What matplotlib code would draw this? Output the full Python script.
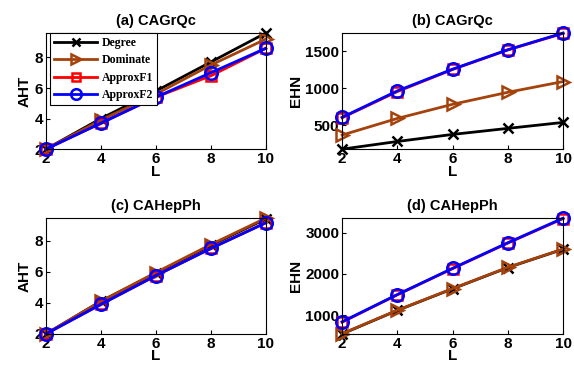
import numpy as np
import matplotlib
matplotlib.use("Agg")
import matplotlib.pyplot as plt

L = [2, 4, 6, 8, 10]
methods = ["Degree", "Dominate", "ApproxF1", "ApproxF2"]

# (a) CAGrQc AHT
aht_grqc_degree = [2.0, 4.0, 5.8, 7.7, 9.6]
aht_grqc_dominate = [2.0, 3.9, 5.6, 7.5, 9.2]
aht_grqc_f1 = [2.0, 3.7, 5.4, 6.8, 8.6]
aht_grqc_f2 = [2.0, 3.7, 5.4, 7.0, 8.6]

# (b) CAGrQc EHN
ehn_grqc_degree = [173, 277, 373, 455, 536]
ehn_grqc_dominate = [364, 590, 782, 945, 1091]
ehn_grqc_f1 = [600, 955, 1255, 1520, 1745]
ehn_grqc_f2 = [605, 964, 1259, 1523, 1750]

# (c) CAHepPh AHT
aht_hep_degree = [2.0, 4.1, 5.9, 7.7, 9.4]
aht_hep_dominate = [2.0, 4.1, 5.95, 7.75, 9.45]
aht_hep_f1 = [2.0, 3.9, 5.75, 7.5, 9.15]
aht_hep_f2 = [2.0, 3.9, 5.75, 7.5, 9.15]

# (d) CAHepPh EHN
ehn_hep_degree = [545, 1115, 1640, 2155, 2600]
ehn_hep_dominate = [550, 1121, 1645, 2161, 2605]
ehn_hep_f1 = [830, 1495, 2130, 2750, 3345]
ehn_hep_f2 = [839, 1500, 2137, 2758, 3355]

colors = ["black", "#A5420C", "red", "blue"]
markers = ["x", ">", "s", "o"]
msizes = [6.5, 9, 7, 9]

panels = [
    ("(a) CAGrQc", "AHT", [aht_grqc_degree, aht_grqc_dominate, aht_grqc_f1, aht_grqc_f2], [2, 4, 6, 8]),
    ("(b) CAGrQc", "EHN", [ehn_grqc_degree, ehn_grqc_dominate, ehn_grqc_f1, ehn_grqc_f2], [500, 1000, 1500]),
    ("(c) CAHepPh", "AHT", [aht_hep_degree, aht_hep_dominate, aht_hep_f1, aht_hep_f2], [2, 4, 6, 8]),
    ("(d) CAHepPh", "EHN", [ehn_hep_degree, ehn_hep_dominate, ehn_hep_f1, ehn_hep_f2], [1000, 2000, 3000]),
]

plt.rcParams["font.family"] = ["Liberation Sans", "DejaVu Sans"]
plt.rcParams["font.weight"] = "bold"

fig = plt.figure(figsize=(5.74, 3.71), dpi=100)
rects = [
    [0.080, 0.598, 0.383, 0.313],
    [0.596, 0.598, 0.385, 0.313],
    [0.080, 0.100, 0.383, 0.312],
    [0.596, 0.100, 0.385, 0.312],
]

for rect, (title, ylab, series, yt) in zip(rects, panels):
    ax = fig.add_axes(rect)
    for s, name, c, m, ms in zip(series, methods, colors, markers, msizes):
        ax.plot(L, s, color=c, marker=m, markersize=ms, markerfacecolor="none",
                markeredgewidth=1.8, linewidth=2, label=name, clip_on=False)
    allv = np.concatenate([np.array(s, dtype=float) for s in series])
    ax.set_xlim(2, 10)
    ax.set_ylim(allv.min(), allv.max())
    ax.set_xticks(L)
    ax.set_yticks(yt)
    ax.tick_params(direction="in", length=3, labelsize=11, pad=2)
    for lab in ax.get_xticklabels() + ax.get_yticklabels():
        lab.set_fontweight("bold")
    ax.set_title(title, fontsize=10.5, fontweight="bold", pad=6)
    ax.set_xlabel("L", fontsize=11, fontweight="bold", labelpad=-1)
    ax.set_ylabel(ylab, fontsize=11, fontweight="bold", labelpad=2)
    for sp in ax.spines.values():
        sp.set_linewidth(0.8)
    if title.startswith("(a)"):
        leg = ax.legend(loc="upper left", bbox_to_anchor=(0.02, 1.0),
                        prop={"family": "Liberation Serif", "weight": "bold", "size": 8.5},
                        handlelength=3.6, borderaxespad=0.0, fancybox=False, edgecolor="black",
                        framealpha=1, labelspacing=0.45, handletextpad=0.4, borderpad=0.35,
                        markerscale=0.85)
        leg.get_frame().set_linewidth(0.8)

fig.savefig("out.png", dpi=100)
